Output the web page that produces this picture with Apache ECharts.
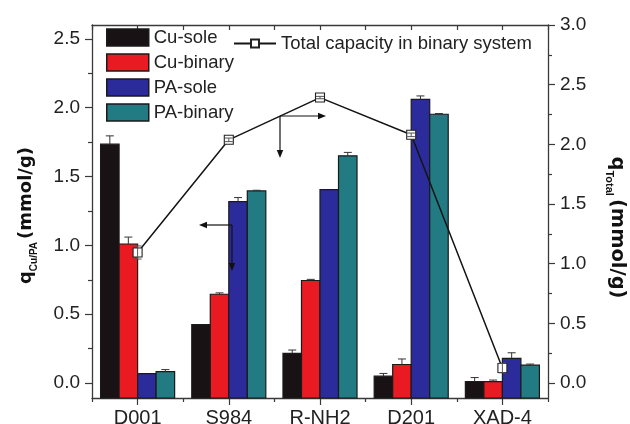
<!DOCTYPE html>
<html>
<head>
<meta charset="utf-8">
<script src="https://cdn.jsdelivr.net/npm/echarts@6/dist/echarts.min.js"></script>
<style>
html,body{margin:0;padding:0;background:#fff;}
#c{width:630px;height:424px;}
</style>
</head>
<body>
<div id="c"></div>
<script>
// ---- data ----
const categories = ['D001', 'S984', 'R-NH2', 'D201', 'XAD-4'];
const cuSole      = [1.735, 0.425, 0.215, 0.050, 0.010];
const cuSoleErr   = [0.060, 0.000, 0.025, 0.020, 0.030];
const cuBinary    = [1.010, 0.645, 0.745, 0.135, 0.010];
const cuBinaryErr = [0.050, 0.010, 0.008, 0.040, 0.012];
const paSole      = [0.068, 1.317, 1.405, 2.060, 0.180];
const paSoleErr   = [0.000, 0.030, 0.000, 0.025, 0.040];
const paBinary    = [0.083, 1.395, 1.650, 1.952, 0.130];
const paBinaryErr = [0.015, 0.005, 0.025, 0.005, 0.008];
const totalCap    = [1.094, 2.038, 2.392, 2.080, 0.126];
const totalCapErr = [0.055, 0.015, 0.010, 0.015, 0.040];
const leftMajorTicks  = [0, 0.5, 1.0, 1.5, 2.0, 2.5];
const leftMinorTicks  = [0.25, 0.75, 1.25, 1.75, 2.25];
const rightMajorTicks = [0, 0.5, 1.0, 1.5, 2.0, 2.5, 3.0];
const rightMinorTicks = [0.25, 0.75, 1.25, 1.75, 2.25, 2.75];

// ---- layout / style ----
const LEFT_MIN = -0.108333, LEFT_MAX = 2.6;
const RIGHT_MIN = -0.125, RIGHT_MAX = 3.0;
const FONT = "'Liberation Sans', Arial, sans-serif";
const TFONT = "'DejaVu Sans', sans-serif";
const AX = '#3a3a3a';
const BAR_FRAC = 0.203;

const barSeriesDefs = [
  {name: 'Cu-sole',   vals: cuSole,   errs: cuSoleErr,   color: '#181214'},
  {name: 'Cu-binary', vals: cuBinary, errs: cuBinaryErr, color: '#ea1a22'},
  {name: 'PA-sole',   vals: paSole,   errs: paSoleErr,   color: '#2b2b9b'},
  {name: 'PA-binary', vals: paBinary, errs: paBinaryErr, color: '#227b82'}
];

function barRender(k, def) {
  return function (params, api) {
    const ci = api.value(0), v = api.value(1);
    const top = api.coord([ci, v]);
    const base = api.coord([ci, LEFT_MIN]);
    const band = api.size([1, 0])[0];
    const bw = band * BAR_FRAC;
    const x0 = top[0] + (k - 2) * bw;
    const children = [{
      type: 'rect',
      shape: {x: x0, y: top[1], width: bw, height: base[1] - top[1]},
      style: {fill: def.color, stroke: '#1a1a1a', lineWidth: 1.2}
    }];
    const e = def.errs[params.dataIndex];
    if (e > 0) {
      const et = api.coord([ci, v + e]);
      const cx = x0 + bw / 2;
      children.push({type: 'line', shape: {x1: cx, y1: top[1], x2: cx, y2: et[1]}, style: {stroke: '#333', lineWidth: 1}});
      children.push({type: 'line', shape: {x1: cx - 4, y1: et[1], x2: cx + 4, y2: et[1]}, style: {stroke: '#333', lineWidth: 1}});
    }
    return {type: 'group', children: children};
  };
}

const series = barSeriesDefs.map(function (def, k) {
  return {
    name: def.name,
    type: 'custom',
    xAxisIndex: 0,
    yAxisIndex: 0,
    z: 1,
    itemStyle: {color: def.color, borderColor: '#1a1a1a', borderWidth: 1.2},
    encode: {x: 0, y: 1},
    renderItem: barRender(k, def),
    data: def.vals.map(function (v, i) { return [i, v]; })
  };
});

series.push({
  name: 'Total capacity in binary system',
  type: 'line',
  xAxisIndex: 0,
  yAxisIndex: 1,
  z: 3,
  symbol: 'rect',
  symbolSize: 9,
  lineStyle: {color: '#141414', width: 1.5},
  itemStyle: {color: '#ffffff', borderColor: '#222', borderWidth: 1.1},
  data: totalCap
});

series.push({
  name: 'totalErr',
  type: 'custom',
  xAxisIndex: 0,
  yAxisIndex: 1,
  z: 4,
  silent: true,
  encode: {x: 0, y: 1},
  renderItem: function (params, api) {
    const ci = api.value(0), v = api.value(1), e = api.value(2);
    const p1 = api.coord([ci, v + e]);
    const p2 = api.coord([ci, v - e]);
    const s = {stroke: '#555', lineWidth: 1};
    return {type: 'group', children: [
      {type: 'line', shape: {x1: p1[0], y1: p1[1], x2: p2[0], y2: p2[1]}, style: s},
      {type: 'line', shape: {x1: p1[0] - 4, y1: p1[1], x2: p1[0] + 4, y2: p1[1]}, style: s},
      {type: 'line', shape: {x1: p2[0] - 4, y1: p2[1], x2: p2[0] + 4, y2: p2[1]}, style: s}
    ]};
  },
  data: totalCap.map(function (v, i) { return [i, v, totalCapErr[i]]; })
});

function arrow(x1, y1, x2, y2) {
  const dx = x2 - x1, dy = y2 - y1;
  const len = Math.sqrt(dx * dx + dy * dy);
  const ux = dx / len, uy = dy / len;
  const hl = 8, hw = 3.2;
  const bx = x2 - ux * hl, by = y2 - uy * hl;
  return [
    {type: 'line', shape: {x1: x1, y1: y1, x2: bx, y2: by}, style: {stroke: '#111', lineWidth: 1.2}, z: 10},
    {type: 'polygon', shape: {points: [[x2, y2], [bx - uy * hw, by + ux * hw], [bx + uy * hw, by - ux * hw]]}, style: {fill: '#111'}, z: 10}
  ];
}

const graphics = [].concat(
  arrow(280, 116, 326, 116),
  arrow(280, 116, 280, 158),
  arrow(232, 225, 199, 225),
  arrow(232, 225, 232, 271)
);

const tickStyle = {color: AX, width: 1.2};
const labelStyle = {fontFamily: FONT, fontSize: 19, color: '#222'};
function titleRich(main, sub) {
  return {
    q: {fontFamily: TFONT, fontSize: main, fontWeight: 'bold', color: '#111', lineHeight: 26},
    p: {fontFamily: TFONT, fontSize: main, fontWeight: 'bold', color: '#111', lineHeight: 26, padding: [0, 0, 0, 3]},
    sub: {fontFamily: FONT, fontSize: sub, fontWeight: 'bold', color: '#111', verticalAlign: 'bottom', lineHeight: 12}
  };
}

const option = {
  backgroundColor: '#fff',
  animation: false,
  textStyle: {fontFamily: FONT},
  grid: {left: 92, right: 82, top: 25, bottom: 26, containLabel: false, outerBoundsMode: 'none'},
  legend: [
    {
      data: barSeriesDefs.map(function (d) {
        return {name: d.name, icon: 'rect', itemStyle: {color: d.color, borderColor: '#1a1a1a', borderWidth: 1.5}};
      }),
      orient: 'vertical',
      left: 106,
      top: 28,
      itemWidth: 42,
      itemHeight: 17,
      itemGap: 6,
      padding: 0,
      textStyle: {fontFamily: FONT, fontSize: 18.5, color: '#222'}
    },
    {
      data: ['Total capacity in binary system'],
      left: 233,
      top: 34,
      itemWidth: 42,
      itemHeight: 10,
      padding: 0,
      textStyle: {fontFamily: FONT, fontSize: 18.5, color: '#222'}
    }
  ],
  xAxis: [
    {
      type: 'category', position: 'bottom', data: categories,
      axisLine: {show: true, onZero: false, lineStyle: {color: AX, width: 1.3}},
      axisTick: {show: true, alignWithLabel: true, inside: false, length: 7, lineStyle: tickStyle},
      axisLabel: {margin: 10, fontSize: 20, fontFamily: FONT, color: '#222'},
      splitLine: {show: false}
    },
    {
      type: 'category', position: 'bottom', data: categories,
      axisLine: {show: false, onZero: false},
      axisTick: {show: true, alignWithLabel: false, inside: false, length: 4, lineStyle: tickStyle},
      axisLabel: {show: false},
      splitLine: {show: false}
    },
    {
      type: 'category', position: 'top', data: categories,
      axisLine: {show: true, onZero: false, lineStyle: {color: AX, width: 1.3}},
      axisTick: {show: true, alignWithLabel: true, inside: true, length: 5, lineStyle: tickStyle},
      axisLabel: {show: false},
      splitLine: {show: false}
    },
    {
      type: 'category', position: 'top', data: categories,
      axisLine: {show: false, onZero: false},
      axisTick: {show: true, alignWithLabel: false, inside: true, length: 5, lineStyle: tickStyle},
      axisLabel: {show: false},
      splitLine: {show: false}
    }
  ],
  yAxis: [
    {
      type: 'value', position: 'left', min: LEFT_MIN, max: LEFT_MAX,
      axisLine: {show: true, onZero: false, lineStyle: {color: AX, width: 1.3}},
      axisTick: {show: true, inside: false, length: 7, lineStyle: tickStyle, customValues: leftMajorTicks},
      axisLabel: Object.assign({margin: 12, customValues: leftMajorTicks, formatter: function (v) { return v.toFixed(1); }}, labelStyle),
      splitLine: {show: false},
      name: '{q|q}{sub|Cu/PA}{p|(mmol/g)}',
      nameLocation: 'middle',
      nameRotate: 90,
      nameGap: 53,
      nameTextStyle: {padding: [0, 8, 0, 0], rich: titleRich(18, 10)}
    },
    {
      type: 'value', position: 'right', min: RIGHT_MIN, max: RIGHT_MAX,
      axisLine: {show: true, onZero: false, lineStyle: {color: AX, width: 1.3}},
      axisTick: {show: true, inside: false, length: 7, lineStyle: tickStyle, customValues: rightMajorTicks},
      axisLabel: Object.assign({margin: 12, customValues: rightMajorTicks, formatter: function (v) { return v.toFixed(1); }}, labelStyle),
      splitLine: {show: false},
      name: '{q|q}{sub|Total}{p|(mmol/g)}',
      nameLocation: 'middle',
      nameRotate: -90,
      nameGap: 56,
      nameTextStyle: {padding: [0, 0, 0, 32], rich: titleRich(19.5, 11)}
    },
    {
      type: 'value', position: 'left', min: LEFT_MIN, max: LEFT_MAX,
      axisLine: {show: false, onZero: false},
      axisTick: {show: true, inside: false, length: 4, lineStyle: tickStyle, customValues: leftMinorTicks},
      axisLabel: {show: false},
      splitLine: {show: false}
    },
    {
      type: 'value', position: 'right', min: RIGHT_MIN, max: RIGHT_MAX,
      axisLine: {show: false, onZero: false},
      axisTick: {show: true, inside: false, length: 4, lineStyle: tickStyle, customValues: rightMinorTicks},
      axisLabel: {show: false},
      splitLine: {show: false}
    }
  ],
  graphic: graphics,
  series: series
};

const chart = echarts.init(document.getElementById('c'), null, {renderer: 'canvas'});
chart.setOption(option);
</script>
</body>
</html>
